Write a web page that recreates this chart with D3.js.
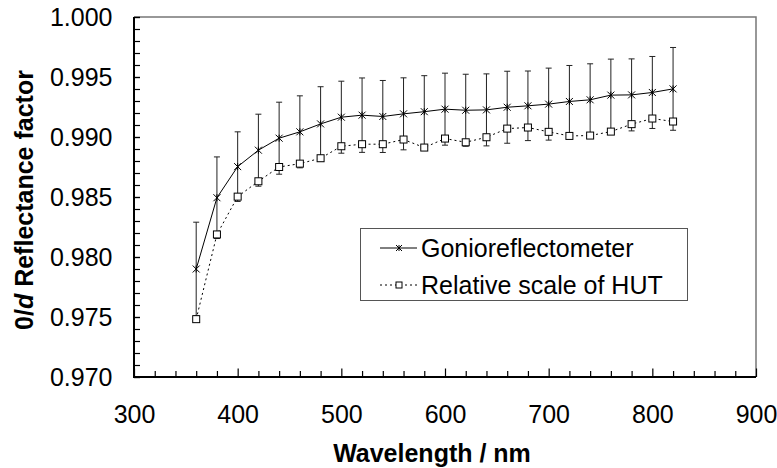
<!DOCTYPE html>
<html>
<head>
<meta charset="utf-8">
<script src="https://cdn.jsdelivr.net/npm/d3@7"></script>
<style>
  body { margin: 0; background: #fff; }
  svg { font-family: "Liberation Sans", Arial, sans-serif; }
</style>
</head>
<body>
<div class="visContainer"></div>
<script>
// Data.
const wavelengths = [360, 380, 400, 420, 440, 460, 480, 500, 520, 540, 560, 580,
                     600, 620, 640, 660, 680, 700, 720, 740, 760, 780, 800, 820];
const gonioValues = [0.97900, 0.98494, 0.98753, 0.98890, 0.98990, 0.99043, 0.99109, 0.99165,
                     0.99182, 0.99171, 0.99193, 0.99211, 0.99232, 0.99223, 0.99226, 0.99248,
                     0.99260, 0.99274, 0.99296, 0.99310, 0.99349, 0.99351, 0.99371, 0.99401];
const gonioErrors = [0.0039, 0.0034, 0.0029, 0.0030, 0.0030, 0.0030, 0.0031, 0.0030,
                     0.0031, 0.0030, 0.0030, 0.0030, 0.0030, 0.0030, 0.0030, 0.0030,
                     0.0029, 0.0030, 0.0030, 0.0030, 0.0030, 0.0030, 0.0030, 0.00345];
const hutValues = [0.97482, 0.98188, 0.98503, 0.98631, 0.98750, 0.98778, 0.98823, 0.98923,
                   0.98940, 0.98940, 0.98979, 0.98912, 0.98987, 0.98956, 0.98998, 0.99070,
                   0.99079, 0.99043, 0.99009, 0.99012, 0.99045, 0.99107, 0.99154, 0.99129];
const xTicks = [300, 400, 500, 600, 700, 800, 900];
const yTicks = [0.970, 0.975, 0.980, 0.985, 0.990, 0.995, 1.000];
const seriesNames = ['Gonioreflectometer', 'Relative scale of HUT'];

// SVG constants.
const width = 777;
const height = 468;
const plotLeft = 134, plotRight = 756, plotTop = 17, plotBottom = 377;

const svg = d3.select('.visContainer')
              .append('svg')
              .attr('width', width)
              .attr('height', height);

// Scales.
const x = d3.scaleLinear().domain([300, 900]).range([plotLeft, plotRight]);
const y = d3.scaleLinear().domain([0.970, 1.000]).range([plotBottom, plotTop]);

// Frame: grey top and right.
svg.append('path')
   .attr('d', `M${plotLeft},${plotTop}H${plotRight}V${plotBottom}`)
   .attr('fill', 'none')
   .attr('stroke', '#777')
   .attr('stroke-width', 1.5);

// Axes.
const minorX = d3.range(300, 901, 20).filter((d) => d % 100 !== 0);
const minorY = d3.range(0, 31).map((i) => 0.970 + i * 0.001);

svg.append('g')
   .attr('transform', `translate(0,${plotBottom})`)
   .call(d3.axisBottom(x).tickValues(minorX).tickSize(-6).tickFormat(''))
   .call((g) => g.select('.domain').remove());
svg.append('g')
   .attr('transform', `translate(0,${plotBottom})`)
   .call(d3.axisBottom(x).tickValues(xTicks).tickSize(-8.5).tickPadding(28).tickFormat(d3.format('d')))
   .call((g) => g.select('.domain').remove())
   .call((g) => g.selectAll('text').attr('font-size', 25).attr('fill', '#000'));

svg.append('g')
   .attr('transform', `translate(${plotLeft},0)`)
   .call(d3.axisLeft(y).tickValues(minorY).tickSize(-6).tickFormat(''))
   .call((g) => g.select('.domain').remove());
svg.append('g')
   .attr('transform', `translate(${plotLeft},0)`)
   .call(d3.axisLeft(y).tickValues(yTicks).tickSize(-6).tickPadding(21.5).tickFormat(d3.format('.3f')))
   .call((g) => g.select('.domain').remove())
   .call((g) => g.selectAll('text').attr('font-size', 25).attr('fill', '#000'));

svg.selectAll('.tick line').attr('stroke', '#000').attr('stroke-width', 1.2);
svg.selectAll('g').attr('font-family', null);

// Black left and bottom axis lines.
svg.append('path')
   .attr('d', `M${plotLeft},${plotTop}V${plotBottom}H${plotRight}`)
   .attr('fill', 'none')
   .attr('stroke', '#000')
   .attr('stroke-width', 2);

// Axis titles.
svg.append('text')
   .attr('x', 432)
   .attr('y', 462)
   .attr('text-anchor', 'middle')
   .attr('font-size', 25)
   .attr('font-weight', 'bold')
   .text('Wavelength / nm');

const yTitle = svg.append('text')
   .attr('transform', 'translate(33,200) rotate(-90)')
   .attr('text-anchor', 'middle')
   .attr('font-size', 25)
   .attr('font-weight', 'bold');
yTitle.append('tspan').text('0/');
yTitle.append('tspan').attr('font-style', 'italic').text('d');
yTitle.append('tspan').text(' Reflectance factor');

// Plot data.
const gonio = wavelengths.map((w, i) => ({ w: w, v: gonioValues[i], e: gonioErrors[i] }));
const hut = wavelengths.map((w, i) => ({ w: w, v: hutValues[i] }));

const line = d3.line().x((d) => x(d.w)).y((d) => y(d.v));

// Error bars.
const bars = svg.append('g').attr('stroke', '#222').attr('stroke-width', 1);
bars.selectAll('line.bar')
    .data(gonio)
    .enter()
    .append('line')
    .attr('x1', (d) => x(d.w))
    .attr('x2', (d) => x(d.w))
    .attr('y1', (d) => y(d.v + d.e))
    .attr('y2', (d) => y(d.v - d.e));
bars.selectAll('line.capTop')
    .data(gonio)
    .enter()
    .append('line')
    .attr('x1', (d) => x(d.w) - 3)
    .attr('x2', (d) => x(d.w) + 3)
    .attr('y1', (d) => y(d.v + d.e))
    .attr('y2', (d) => y(d.v + d.e));
bars.selectAll('line.capBottom')
    .data(gonio)
    .enter()
    .append('line')
    .attr('x1', (d) => x(d.w) - 3)
    .attr('x2', (d) => x(d.w) + 3)
    .attr('y1', (d) => y(d.v - d.e))
    .attr('y2', (d) => y(d.v - d.e));

// Lines.
svg.append('path')
   .datum(hut)
   .attr('d', line)
   .attr('fill', 'none')
   .attr('stroke', '#000')
   .attr('stroke-width', 1)
   .attr('stroke-dasharray', '2,3');
svg.append('path')
   .datum(gonio)
   .attr('d', line)
   .attr('fill', 'none')
   .attr('stroke', '#000')
   .attr('stroke-width', 1);

// Markers.
function star(g, cx, cy, r) {
    g.append('path')
     .attr('d', `M${cx - r},${cy - r}L${cx + r},${cy + r}M${cx - r},${cy + r}L${cx + r},${cy - r}M${cx},${cy - r}V${cy + r}`)
     .attr('stroke', '#000')
     .attr('stroke-width', 1)
     .attr('fill', 'none');
}
function square(g, cx, cy, r) {
    g.append('rect')
     .attr('x', cx - r)
     .attr('y', cy - r)
     .attr('width', 2 * r)
     .attr('height', 2 * r)
     .attr('fill', '#fff')
     .attr('stroke', '#000')
     .attr('stroke-width', 1);
}

const marks = svg.append('g');
hut.forEach((d) => square(marks, x(d.w), y(d.v), 3.5));
gonio.forEach((d) => star(marks, x(d.w), y(d.v), 3.5));

// Legend.
const legend = svg.append('g');
legend.append('rect')
      .attr('x', 360.5)
      .attr('y', 228.5)
      .attr('width', 327)
      .attr('height', 72)
      .attr('fill', '#fff')
      .attr('stroke', '#555')
      .attr('stroke-width', 1);

const rows = [248, 285];
legend.append('line')
      .attr('x1', 380).attr('x2', 417).attr('y1', rows[0]).attr('y2', rows[0])
      .attr('stroke', '#000');
star(legend, 399, rows[0], 3);
legend.append('line')
      .attr('x1', 380).attr('x2', 417).attr('y1', rows[1]).attr('y2', rows[1])
      .attr('stroke', '#000')
      .attr('stroke-dasharray', '2,3');
square(legend, 399, rows[1], 3);

legend.selectAll('text')
      .data(seriesNames)
      .enter()
      .append('text')
      .attr('x', 421)
      .attr('y', (d, i) => rows[i])
      .attr('dy', '0.35em')
      .attr('font-size', 25)
      .text((d) => d);
</script>
</body>
</html>
